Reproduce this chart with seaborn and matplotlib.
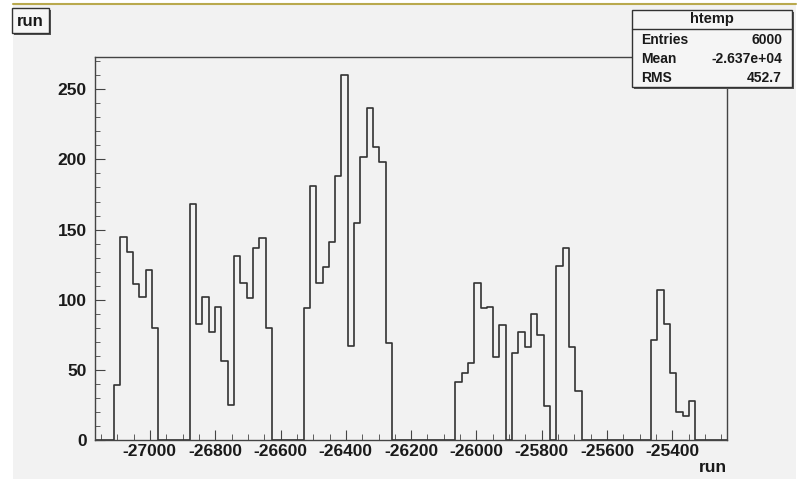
import numpy as np
import pandas as pd
import matplotlib.pyplot as plt
import seaborn as sns
from matplotlib.patches import Rectangle
from matplotlib.lines import Line2D
from matplotlib.ticker import MultipleLocator

# ROOT-style histogram "htemp" of the branch "run", 100 bins
x_min = -27168.0
x_max = -25233.0
n_bins = 100

counts = [
    0, 0, 0, 39, 145, 134, 111, 102, 121, 80,
    0, 0, 0, 0, 0, 168, 83, 102, 77, 95,
    56, 25, 131, 112, 101, 137, 144, 80, 0, 0,
    0, 0, 0, 94, 181, 112, 123, 141, 188, 260,
    67, 155, 202, 237, 209, 198, 69, 0, 0, 0,
    0, 0, 0, 0, 0, 0, 0, 41, 48, 55,
    112, 94, 95, 59, 82, 0, 62, 77, 66, 90,
    75, 24, 0, 124, 137, 66, 35, 0, 0, 0,
    0, 0, 0, 0, 0, 0, 0, 0, 71, 107,
    83, 48, 20, 17, 28, 0, 0, 0, 0, 0,
]

x_ticks = [-27000, -26800, -26600, -26400, -26200, -26000, -25800, -25600, -25400]
y_ticks = [0, 50, 100, 150, 200, 250]

stats_name = "htemp"
stats_rows = [("Entries", "6000"), ("Mean", "-2.637e+04"), ("RMS", "452.7")]

sns.set_style("ticks")
plt.rcParams['font.family'] = ['Liberation Sans', 'DejaVu Sans']
plt.rcParams['font.weight'] = 'bold'

W, H = 800, 479
bg = '#f2f2f2'
ink = '#333333'

fig = plt.figure(figsize=(W / 100, H / 100), dpi=100, facecolor='white')


def fx(px):
    return px / W


def fy(py):
    return 1 - py / H


# canvas background and the thin top border
fig.patches.append(Rectangle((fx(13), 0), fx(796 - 13), fy(5), transform=fig.transFigure,
                             facecolor=bg, edgecolor='none', zorder=-10))
fig.lines.append(Line2D([fx(13), fx(796)], [fy(4), fy(4)], transform=fig.transFigure,
                        color='#b9a94e', linewidth=1.5, zorder=-9))

ax = fig.add_axes([fx(95), fy(440), fx(727) - fx(95), fy(57) - fy(440)])
ax.set_zorder(1)
ax.set_facecolor(bg)

edges = np.linspace(x_min, x_max, n_bins + 1)
df = pd.DataFrame({'run': (edges[:-1] + edges[1:]) / 2, 'n': counts})
sns.histplot(data=df, x='run', weights='n', bins=list(edges), element='step', fill=False,
             color=ink, linewidth=1.2, ax=ax)

ax.set_xlim(x_min, x_max)
ax.set_ylim(0, 273)
ax.set_xticks(x_ticks)
ax.set_xticklabels([str(t) for t in x_ticks])
ax.set_yticks(y_ticks)
ax.xaxis.set_minor_locator(MultipleLocator(50))
ax.yaxis.set_minor_locator(MultipleLocator(10))
ax.tick_params(axis='both', which='both', direction='in', color='#444444',
               top=False, right=False, labelsize=12.5)
ax.tick_params(axis='x', which='major', length=7, pad=3)
ax.tick_params(axis='x', which='minor', length=4)
ax.tick_params(axis='y', which='major', length=7, pad=6)
ax.tick_params(axis='y', which='minor', length=3.5)
for lab in ax.get_xticklabels() + ax.get_yticklabels():
    lab.set_fontweight('bold')
    lab.set_color('#1a1a1a')
for sp in ax.spines.values():
    sp.set_visible(True)
    sp.set_color('#444444')
    sp.set_linewidth(1.0)
ax.set_ylabel('')
ax.set_xlabel('')

# axis title at bottom right
fig.text(fx(727), fy(467), 'run', ha='right', va='center', fontsize=12.5,
         fontweight='bold', color='#1a1a1a')

# title box
fig.patches.append(Rectangle((fx(14), fy(35)), fx(37), fy(10) - fy(35), transform=fig.transFigure,
                             facecolor='#555555', edgecolor='none', zorder=2))
fig.patches.append(Rectangle((fx(12), fy(33)), fx(37), fy(10) - fy(35), transform=fig.transFigure,
                             facecolor='#f7f7f7', edgecolor='#333333', linewidth=1.0, zorder=3))
fig.text(fx(30.5), fy(21), 'run', ha='center', va='center', fontsize=12,
         fontweight='bold', color='#1a1a1a', zorder=4)

# stats box
bx0, bx1, by0, by1 = 632, 792, 10, 87
fig.patches.append(Rectangle((fx(bx0 + 2), fy(by1 + 2)), fx(bx1 - bx0), fy(by0) - fy(by1),
                             transform=fig.transFigure, facecolor='#555555',
                             edgecolor='none', zorder=5))
fig.patches.append(Rectangle((fx(bx0), fy(by1)), fx(bx1 - bx0), fy(by0) - fy(by1),
                             transform=fig.transFigure, facecolor='#f5f5f5',
                             edgecolor='#333333', linewidth=1.0, zorder=6))
fig.lines.append(Line2D([fx(bx0), fx(bx1)], [fy(29), fy(29)], transform=fig.transFigure,
                        color='#333333', linewidth=1.0, zorder=7))
fig.text(fx((bx0 + bx1) / 2), fy(19.5), stats_name, ha='center', va='center',
         fontsize=10.5, fontweight='bold', color='#1a1a1a', zorder=8)
for i, (name, val) in enumerate(stats_rows):
    yy = fy(40 + i * 19)
    fig.text(fx(641), yy, name, ha='left', va='center', fontsize=10,
             fontweight='bold', color='#1a1a1a', zorder=8)
    fig.text(fx(782), yy, val, ha='right', va='center', fontsize=10,
             fontweight='bold', color='#1a1a1a', zorder=8)

fig.savefig('out.png', dpi=100, facecolor=fig.get_facecolor())
